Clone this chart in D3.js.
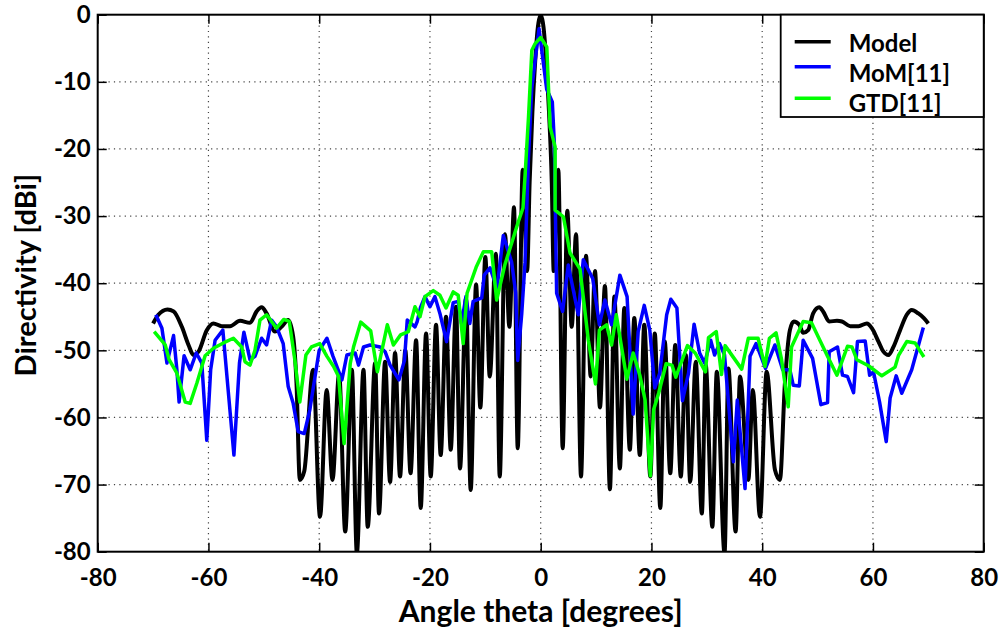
<!DOCTYPE html>
<html>
<head>
<meta charset="utf-8">
<script src="https://cdn.jsdelivr.net/npm/d3@7"></script>
<style>
  body { margin: 0; background: #fff; }
  text { font-family: Lato, "Open Sans", sans-serif; font-weight: bold; fill: #000; }
</style>
</head>
<body>
<svg width="1005" height="630"></svg>
<script>
// Model (black) - peaks and nulls
var modelTheta = [-70, -69.05, -67.4, -66.3, -64.8, -63.6, -62.7, -61.8, -60.3, -59.1, -57.6, -56.1, -54.3, -52.5, -51.3, -50.4, -49.5, -48, -46.8, -45.6, -44.7, -44.1, -43.5, -42.7,
  -41.1, -39.85, -38.65, -37.6, -36.4, -35.3, -34.1, -33.2, -32, -31.24, -29.9, -29.2, -28.1, -27.2, -26.3, -25.4, -24.45, -23.5, -22.5, -21.67, -20.7, -19.86, -18.9, -18.06,
  -17.1, -16.25, -15.3, -14.57, -13.5, -12.64, -11.67, -10.9, -10, -9.2, -8.1, -7.4, -6.45, -5.66, -4.82, -4.15, -3.25, -2.45, -2, -1.5, -1, -0.5, 0,
  0.5, 1, 1.5, 2, 2.35, 3.18, 3.97, 4.8, 5.6, 6.38, 7.28, 8.18, 9.03, 9.8, 10.7, 11.6, 12.5, 13.3, 14.3, 15.1, 16.1, 16.9, 17.9, 18.7, 19.8, 20.6, 21.6, 22.4,
  23.4, 24.3, 25.3, 26.2, 27, 28, 29.1, 29.8, 31, 31.8, 33.2, 33.9, 35.2, 36, 37.5, 38.3, 39.6, 40.8, 42.3, 43.2, 44.1, 45, 45.7, 46.7, 47.4, 48.3, 49.2,
  50.3, 51, 52.1, 53.5, 54.4, 55.9, 57.4, 58.9, 59.8, 61, 61.9, 62.8, 63.7, 64.9, 66.1, 67, 68.2, 69.2, 70];
var modelDb = [-46, -44.7, -43.9, -44.2, -46.5, -49.2, -50.7, -50.2, -47, -46, -46.4, -46.4, -45.6, -45.9, -44.2, -43.6, -44.5, -47.2, -46.5, -45.5, -48, -54.9, -69.3, -68,
  -52.9, -74.8, -55.9, -69.3, -53.5, -77, -52.9, -80.2, -52.9, -76.3, -51.9, -74.3, -51.7, -69.6, -50.4, -68.8, -50, -68.3, -48.5, -73.5, -47.5, -68.8, -46.2, -65.6,
  -45, -64.8, -43.5, -67.6, -42.3, -70.8, -40.2, -58.5, -36.1, -53.9, -35.6, -68.8, -32.7, -46.5, -28.7, -64.6, -23.1, -38.2, -25, -14.5, -7, -1.8, 0,
  -1.8, -7, -14.5, -25, -38.2, -23.1, -64.6, -29.2, -46.5, -32.7, -68.8, -35.9, -53.9, -38.2, -58.5, -40.4, -70.7, -42, -67.6, -43.7, -64.8, -45.2, -65.6, -46.2, -68.8, -47.5, -73.5, -48.7,
  -68.3, -49.2, -68.8, -50.7, -69.6, -51.7, -74.3, -52.2, -76.3, -53.2, -80.2, -52.7, -77, -53.9, -69.3, -55.9, -74.8, -53.2, -67.8, -69.3, -54.9, -47, -45.7, -46.2, -47.4, -47, -44.5,
  -43.6, -44.2, -45.7, -45.6, -45.7, -46.4, -46.4, -46, -46.7, -48.7, -50.2, -50.7, -49.5, -47, -44.7, -44, -44.5, -45.2, -46];

// MoM[11] (blue)
var momTheta = [-69.5, -68.4, -67.5, -66.3, -65.7, -65.3, -64.4, -63.3, -62.2, -61.2, -60.3, -59.6, -58.8, -57.4, -55.4, -54.4, -53.6, -52.5, -51.6, -50.4, -49.5, -48.6, -47.7,
  -46.5, -45.6, -44.7, -43.8, -42.7, -41.7, -40, -38.6, -37.5, -35.9, -35, -33.5, -32.9, -32, -30.8, -29, -28.1, -27.2, -25.6, -24.6, -24.1, -22.7, -22.3, -21.7, -20.9,
  -20, -19.1, -18.2, -17, -15.8, -14.9, -14.3, -13.5, -12.8, -12.2, -10.65, -10.2, -9.15, -7.9, -6.75, -5.24, -4.52, -4.15, -3.43, -2.83, -2.23, -1.63, -0.3,
  1.08, 2.1, 2.46, 2.88, 3.96, 4.98, 6.78, 7.69, 9.39, 10.6, 11.6, 12.8, 14.3, 15.6, 16.7, 17.6, 18.7, 19.7, 20.6, 21.5, 22.75, 23.5, 24.6, 25.6, 26.7, 27.7, 28.7,
  29.6, 30.7, 31.4, 32.3, 33.2, 34.8, 35.5, 36.9, 37.8, 38.9, 40.6, 42.3, 43.7, 45, 45.6, 46.7, 47.4, 49.1, 50.6, 51.8, 52.1, 53.6, 54.5, 55.4, 56.5, 57.2, 58.6,
  59.4, 60.1, 61.2, 62.4, 63.1, 64.2, 65.2, 67, 69.1];
var momDb = [-44.7, -46.7, -51.9, -47.8, -52.9, -57.7, -50.8, -52.9, -50.4, -51.9, -63.4, -52.9, -48.5, -47, -65.6, -51.9, -47.3, -51.4, -50.9, -48.2, -49.2, -45.5, -46.5,
  -49, -55.4, -57.9, -62.1, -62.4, -58.9, -50, -48.2, -50.9, -54.4, -50.7, -50.4, -52.2, -49.5, -49.2, -49.5, -50.2, -52.2, -54.4, -51.5, -45.5, -46.5, -45.7, -43.6, -42,
  -43.5, -42, -44.5, -48.7, -42.9, -42.7, -46, -42, -46, -42.7, -42.2, -38.8, -37.7, -40.8, -32.9, -36.9, -41.4, -51.5, -44.6, -36.9, -21.7, -11.1, -2.1,
  -11.1, -13, -19.1, -41.5, -44.2, -37.3, -44.7, -36.5, -39.3, -46.2, -42.5, -46.2, -38.8, -42, -59.5, -47.2, -43.3, -47, -55.6, -53.4, -44.7, -42.4, -43.7, -57.5, -53.4, -46.1, -50.4,
  -51.9, -48.5, -50.7, -49, -50.7, -66.6, -57.4, -70.6, -50.9, -49, -52.7, -49.2, -52.9, -52.9, -55.2, -55.3, -48.5, -51.2, -58.1, -57.8, -50.2, -49.5, -53.7, -53.9, -56.3, -48.7, -48.6,
  -53.7, -53.2, -57.7, -63.6, -57.1, -53.8, -56.4, -52.9, -46.6];

// GTD[11] (green)
var gtdTheta = [-69.8, -67.8, -67.1, -65.7, -64.2, -63.3, -62.1, -60.6, -59.1, -57.3, -55.5, -54, -53.4, -52.5, -51.6, -50.7, -49.5, -47.7, -46.4, -45.4, -44.4, -43.5, -42.4,
  -41.4, -39.9, -38.6, -37.4, -36.5, -35.5, -34.4, -33.8, -32.5, -30.7, -29.5, -27.7, -26.6, -25.3, -23.9, -22.7, -21.8, -20.9, -19.4, -18.2, -17.1, -15.8, -14.9, -14,
  -13.3, -11.6, -10.35, -8.85, -7.95, -6.45, -5.24, -4.03, -3.2, -2.8, -2.2, -1.6, -1, 0, 1.1, 1.7, 2.6, 2.6, 4.1, 5.3, 7.1, 8.6, 9.9, 10.6, 11.9, 12.8, 13.65,
  15.55, 16.7, 17.9, 18.85, 19.8, 20.4, 21.3, 22.65, 23.7, 24.4, 26.5, 27.9, 29.75, 30.3, 31.7, 32.65, 33.3, 36.3, 37.5, 39.25, 40.5, 41.3, 42.5, 43.5, 44.7, 45.3,
  47.4, 48.9, 51.8, 53.5, 55.4, 56.2, 57.1, 59.2, 61.6, 64, 64.6, 66.1, 67.6, 69.2];
var gtdDb = [-47.2, -49.2, -51.4, -53.4, -57.7, -57.9, -54.9, -50.8, -49.7, -48.9, -48.2, -49.5, -51.7, -52.2, -50, -45.5, -44.7, -46.7, -45.4, -45.7, -51.4, -57.7, -50.7,
  -49.5, -49, -50.9, -52.4, -53.9, -63.9, -52, -49.5, -45.8, -47.1, -53.2, -46.2, -49.2, -47.7, -47.2, -43.5, -45, -42, -41.1, -41.8, -43.7, -41.3, -41.8, -49,
  -41.5, -37.5, -35.3, -35.3, -42.5, -37.2, -34, -30.8, -28.8, -23.6, -15.2, -5.3, -4.3, -3.4, -4.8, -16.7, -19.7, -29.1, -30.1, -35.5, -37.9, -48.5, -55, -47, -46.2, -49.2, -44.7,
  -54.3, -50.4, -53.7, -57.4, -68.7, -58.8, -56.4, -52, -52.2, -54, -49.3, -50.4, -53.2, -48.1, -47.2, -53.6, -49.3, -52.8, -48.2, -48.2, -52.4, -48.2, -47.4, -51.4, -58.4, -49.5,
  -45.7, -45.9, -50.9, -53.7, -49.4, -49.5, -51.4, -52.3, -53.8, -52.5, -50.8, -48.7, -48.9, -51];

var xTicks = [-80, -60, -40, -20, 0, 20, 40, 60, 80];
var yTicks = [-80, -70, -60, -50, -40, -30, -20, -10, 0];
var seriesNames = ["Model", "MoM[11]", "GTD[11]"];
var seriesColors = ["#000000", "#0000ff", "#00ff00"];

var margin = {top: 14.7, left: 97.7};
var width = 886, height = 537;

var svg = d3.select("svg");
var g = svg.append("g")
  .attr("transform", "translate(" + margin.left + "," + margin.top + ")");

var x = d3.scaleLinear().domain([-80, 80]).range([0, width]);
var y = d3.scaleLinear().domain([-80, 0]).range([height, 0]);

// plain hyphen for negatives, like the original
var plain = function(d) { return String(d); };

// dotted grid
g.append("g").selectAll("line")
  .data(xTicks.slice(1, -1))
  .enter().append("line")
  .attr("x1", function(d) { return x(d); })
  .attr("x2", function(d) { return x(d); })
  .attr("y1", 0).attr("y2", height)
  .attr("stroke", "#444").attr("stroke-width", 1.2)
  .attr("stroke-dasharray", "1.2,4.2");

g.append("g").selectAll("line")
  .data(yTicks.slice(1, -1))
  .enter().append("line")
  .attr("y1", function(d) { return y(d); })
  .attr("y2", function(d) { return y(d); })
  .attr("x1", 0).attr("x2", width)
  .attr("stroke", "#444").attr("stroke-width", 1.2)
  .attr("stroke-dasharray", "1.2,4.2");

// axes, ticks inward
function styleAxis(sel) {
  sel.select(".domain").remove();
  sel.selectAll(".tick line").attr("stroke", "#000").attr("stroke-width", 1.5);
  sel.selectAll("text").style("font-size", "24px");
}

g.append("g")
  .call(d3.axisLeft(y).tickValues(yTicks).tickSize(-9).tickPadding(7).tickFormat(plain))
  .call(styleAxis);

g.append("g")
  .attr("transform", "translate(0," + height + ")")
  .call(d3.axisBottom(x).tickValues(xTicks).tickSize(-9).tickPadding(17).tickFormat(plain))
  .call(styleAxis);

g.append("g")
  .attr("transform", "translate(" + width + ",0)")
  .call(d3.axisRight(y).tickValues(yTicks).tickSize(-9).tickFormat(""))
  .call(styleAxis);

g.append("g")
  .call(d3.axisTop(x).tickValues(xTicks).tickSize(-9).tickFormat(""))
  .call(styleAxis);

// clip for the curves
g.append("clipPath").attr("id", "clip")
  .append("rect").attr("width", width).attr("height", height);

var modelLine = d3.line()
  .x(function(d, i) { return x(modelTheta[i]); })
  .y(function(d) { return y(d); })
  .curve(d3.curveMonotoneX);

var straightLine = function(thetas) {
  return d3.line()
    .x(function(d, i) { return x(thetas[i]); })
    .y(function(d) { return y(d); });
};

var curves = g.append("g").attr("clip-path", "url(#clip)");

curves.append("path")
  .attr("d", modelLine(modelDb))
  .attr("fill", "none").attr("stroke", seriesColors[0])
  .attr("stroke-width", 4).attr("stroke-linejoin", "round");

curves.append("path")
  .attr("d", straightLine(momTheta)(momDb))
  .attr("fill", "none").attr("stroke", seriesColors[1])
  .attr("stroke-width", 3.5).attr("stroke-linejoin", "round");

curves.append("path")
  .attr("d", straightLine(gtdTheta)(gtdDb))
  .attr("fill", "none").attr("stroke", seriesColors[2])
  .attr("stroke-width", 3.5).attr("stroke-linejoin", "round");

// frame
g.append("rect")
  .attr("width", width).attr("height", height)
  .attr("fill", "none").attr("stroke", "#000").attr("stroke-width", 2);

// legend
var legend = g.append("g").attr("transform", "translate(" + (width - 203) + ",0)");
legend.append("rect")
  .attr("width", 203).attr("height", 102.3)
  .attr("fill", "#fff").attr("stroke", "#000").attr("stroke-width", 1.8);

var lineY = [27, 52, 83.6];
var textY = [37.5, 67, 97];
seriesNames.forEach(function(name, i) {
  legend.append("line")
    .attr("x1", 14).attr("x2", 50)
    .attr("y1", lineY[i]).attr("y2", lineY[i])
    .attr("stroke", seriesColors[i]).attr("stroke-width", 3.5);
  legend.append("text")
    .attr("x", 68).attr("y", textY[i])
    .style("font-size", "24px")
    .text(name);
});

// axis titles
svg.append("text")
  .attr("x", margin.left + width / 2).attr("y", 622)
  .attr("text-anchor", "middle")
  .style("font-size", "30px")
  .text("Angle theta [degrees]");

svg.append("text")
  .attr("transform", "translate(36," + (margin.top + height / 2 - 8) + ") rotate(-90)")
  .attr("text-anchor", "middle")
  .style("font-size", "29px")
  .text("Directivity [dBi]");
</script>
</body>
</html>
